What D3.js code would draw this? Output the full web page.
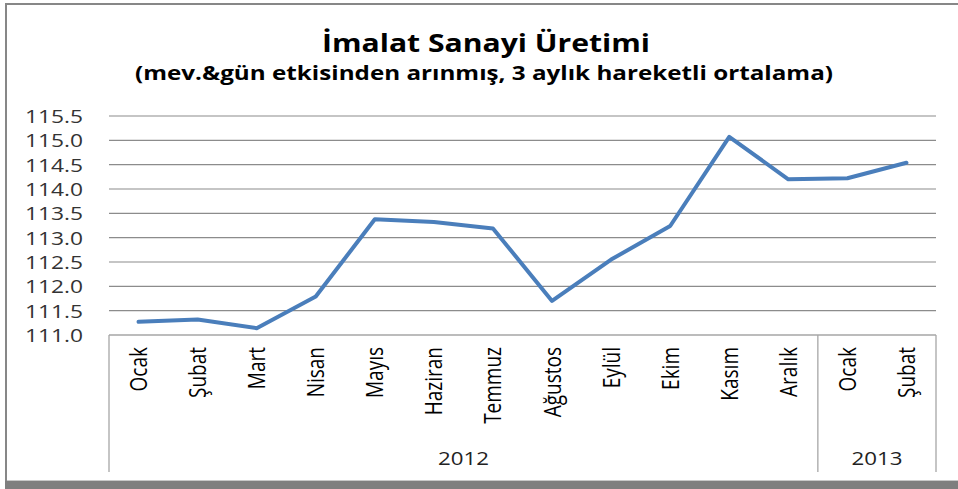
<!DOCTYPE html>
<html>
<head>
<meta charset="utf-8">
<script src="https://cdn.jsdelivr.net/npm/d3@7"></script>
<style>
  body { margin: 0; background: #fff; }
  svg { display: block; }
  text { font-family: "Open Sans", "DejaVu Sans", sans-serif; }
</style>
</head>
<body>
<svg id="chart" width="958" height="489"></svg>
<script>
// chart data
const months = ["Ocak", "Şubat", "Mart", "Nisan", "Mayıs", "Haziran", "Temmuz",
                "Ağustos", "Eylül", "Ekim", "Kasım", "Aralık", "Ocak", "Şubat"];
const years = ["2012", "2013"];
const yearCounts = [12, 2];
const values = [111.27, 111.32, 111.14, 111.79, 113.38, 113.32, 113.19,
                111.70, 112.55, 113.24, 115.07, 114.20, 114.22, 114.54];
const yTicks = [111.0, 111.5, 112.0, 112.5, 113.0, 113.5, 114.0, 114.5, 115.0, 115.5];

const title = "İmalat Sanayi Üretimi";
const subtitle = "(mev.&gün etkisinden arınmış, 3 aylık hareketli ortalama)";

const plot = { left: 109, right: 936, top: 116, bottom: 335, boxBottom: 472 };

const svg = d3.select("#chart");

// outer frame with shadow
svg.append("rect").attr("x", 5).attr("y", 480).attr("width", 953).attr("height", 1)
  .attr("fill", "#c8c8c8");
svg.append("rect").attr("x", 5).attr("y", 481).attr("width", 953).attr("height", 8)
  .attr("fill", "#7f7f7f");
svg.append("rect").attr("x", 5).attr("y", 3).attr("width", 953).attr("height", 2)
  .attr("fill", "#878787");
svg.append("rect").attr("x", 5).attr("y", 3).attr("width", 2).attr("height", 478)
  .attr("fill", "#878787");

// titles
svg.append("text")
  .attr("x", 486).attr("y", 52)
  .attr("text-anchor", "middle")
  .attr("font-size", 25).attr("font-weight", "bold")
  .attr("textLength", 328).attr("lengthAdjust", "spacingAndGlyphs")
  .text(title);

svg.append("text")
  .attr("x", 484).attr("y", 80)
  .attr("text-anchor", "middle")
  .attr("font-size", 19).attr("font-weight", "bold")
  .attr("textLength", 698).attr("lengthAdjust", "spacingAndGlyphs")
  .text(subtitle);

// scales
const x = d3.scaleBand()
  .domain(d3.range(months.length))
  .range([plot.left, plot.right]);

const y = d3.scaleLinear()
  .domain([111, 115.5])
  .range([plot.bottom, plot.top]);

// gridlines
svg.append("g")
  .selectAll("line")
  .data(yTicks.filter(d => d > 111))
  .join("line")
  .attr("x1", plot.left).attr("x2", plot.right)
  .attr("y1", d => y(d)).attr("y2", d => y(d))
  .attr("stroke", "#8c8c8c").attr("stroke-width", 1.2);

// y tick labels
svg.append("g")
  .selectAll("text")
  .data(yTicks)
  .join("text")
  .attr("x", 83).attr("y", d => y(d) + 7)
  .attr("text-anchor", "end")
  .attr("font-size", 18).attr("fill", "#333")
  .attr("textLength", 58).attr("lengthAdjust", "spacingAndGlyphs")
  .text(d3.format(".1f"));

// category box
const boxColor = "#a6a6a6";
svg.append("line")
  .attr("x1", plot.left).attr("x2", plot.right)
  .attr("y1", plot.bottom).attr("y2", plot.bottom)
  .attr("stroke", boxColor).attr("stroke-width", 1.3);

let start = 0;
const bounds = [0];
yearCounts.forEach(c => { start += c; bounds.push(start); });

svg.append("g")
  .selectAll("line")
  .data(bounds)
  .join("line")
  .attr("x1", d => d < months.length ? x(d) : plot.right)
  .attr("x2", d => d < months.length ? x(d) : plot.right)
  .attr("y1", plot.bottom).attr("y2", plot.boxBottom)
  .attr("stroke", boxColor).attr("stroke-width", 1.3);

// month labels, rotated and stretched like the source picture
svg.append("g")
  .selectAll("text")
  .data(months)
  .join("text")
  .attr("transform", (d, i) =>
    `translate(${x(i) + x.bandwidth() / 2},347) scale(1.25,1) rotate(-90)`)
  .attr("x", 0).attr("y", 6.8)
  .attr("text-anchor", "end")
  .attr("font-size", 19).attr("fill", "#000")
  .text(d => d);

// year labels
svg.append("g")
  .selectAll("text")
  .data(years)
  .join("text")
  .attr("x", (d, i) => {
    const a = x(bounds[i]);
    const b = bounds[i + 1] < months.length ? x(bounds[i + 1]) : plot.right;
    return (a + b) / 2;
  })
  .attr("y", 465)
  .attr("text-anchor", "middle")
  .attr("font-size", 18).attr("fill", "#222")
  .attr("textLength", 51).attr("lengthAdjust", "spacingAndGlyphs")
  .text(d => d);

// series line
const line = d3.line()
  .x((d, i) => x(i) + x.bandwidth() / 2)
  .y(d => y(d));

svg.append("path")
  .datum(values)
  .attr("d", line)
  .attr("fill", "none")
  .attr("stroke", "#4a7ebb")
  .attr("stroke-width", 4)
  .attr("stroke-linejoin", "round")
  .attr("stroke-linecap", "round");
</script>
</body>
</html>
